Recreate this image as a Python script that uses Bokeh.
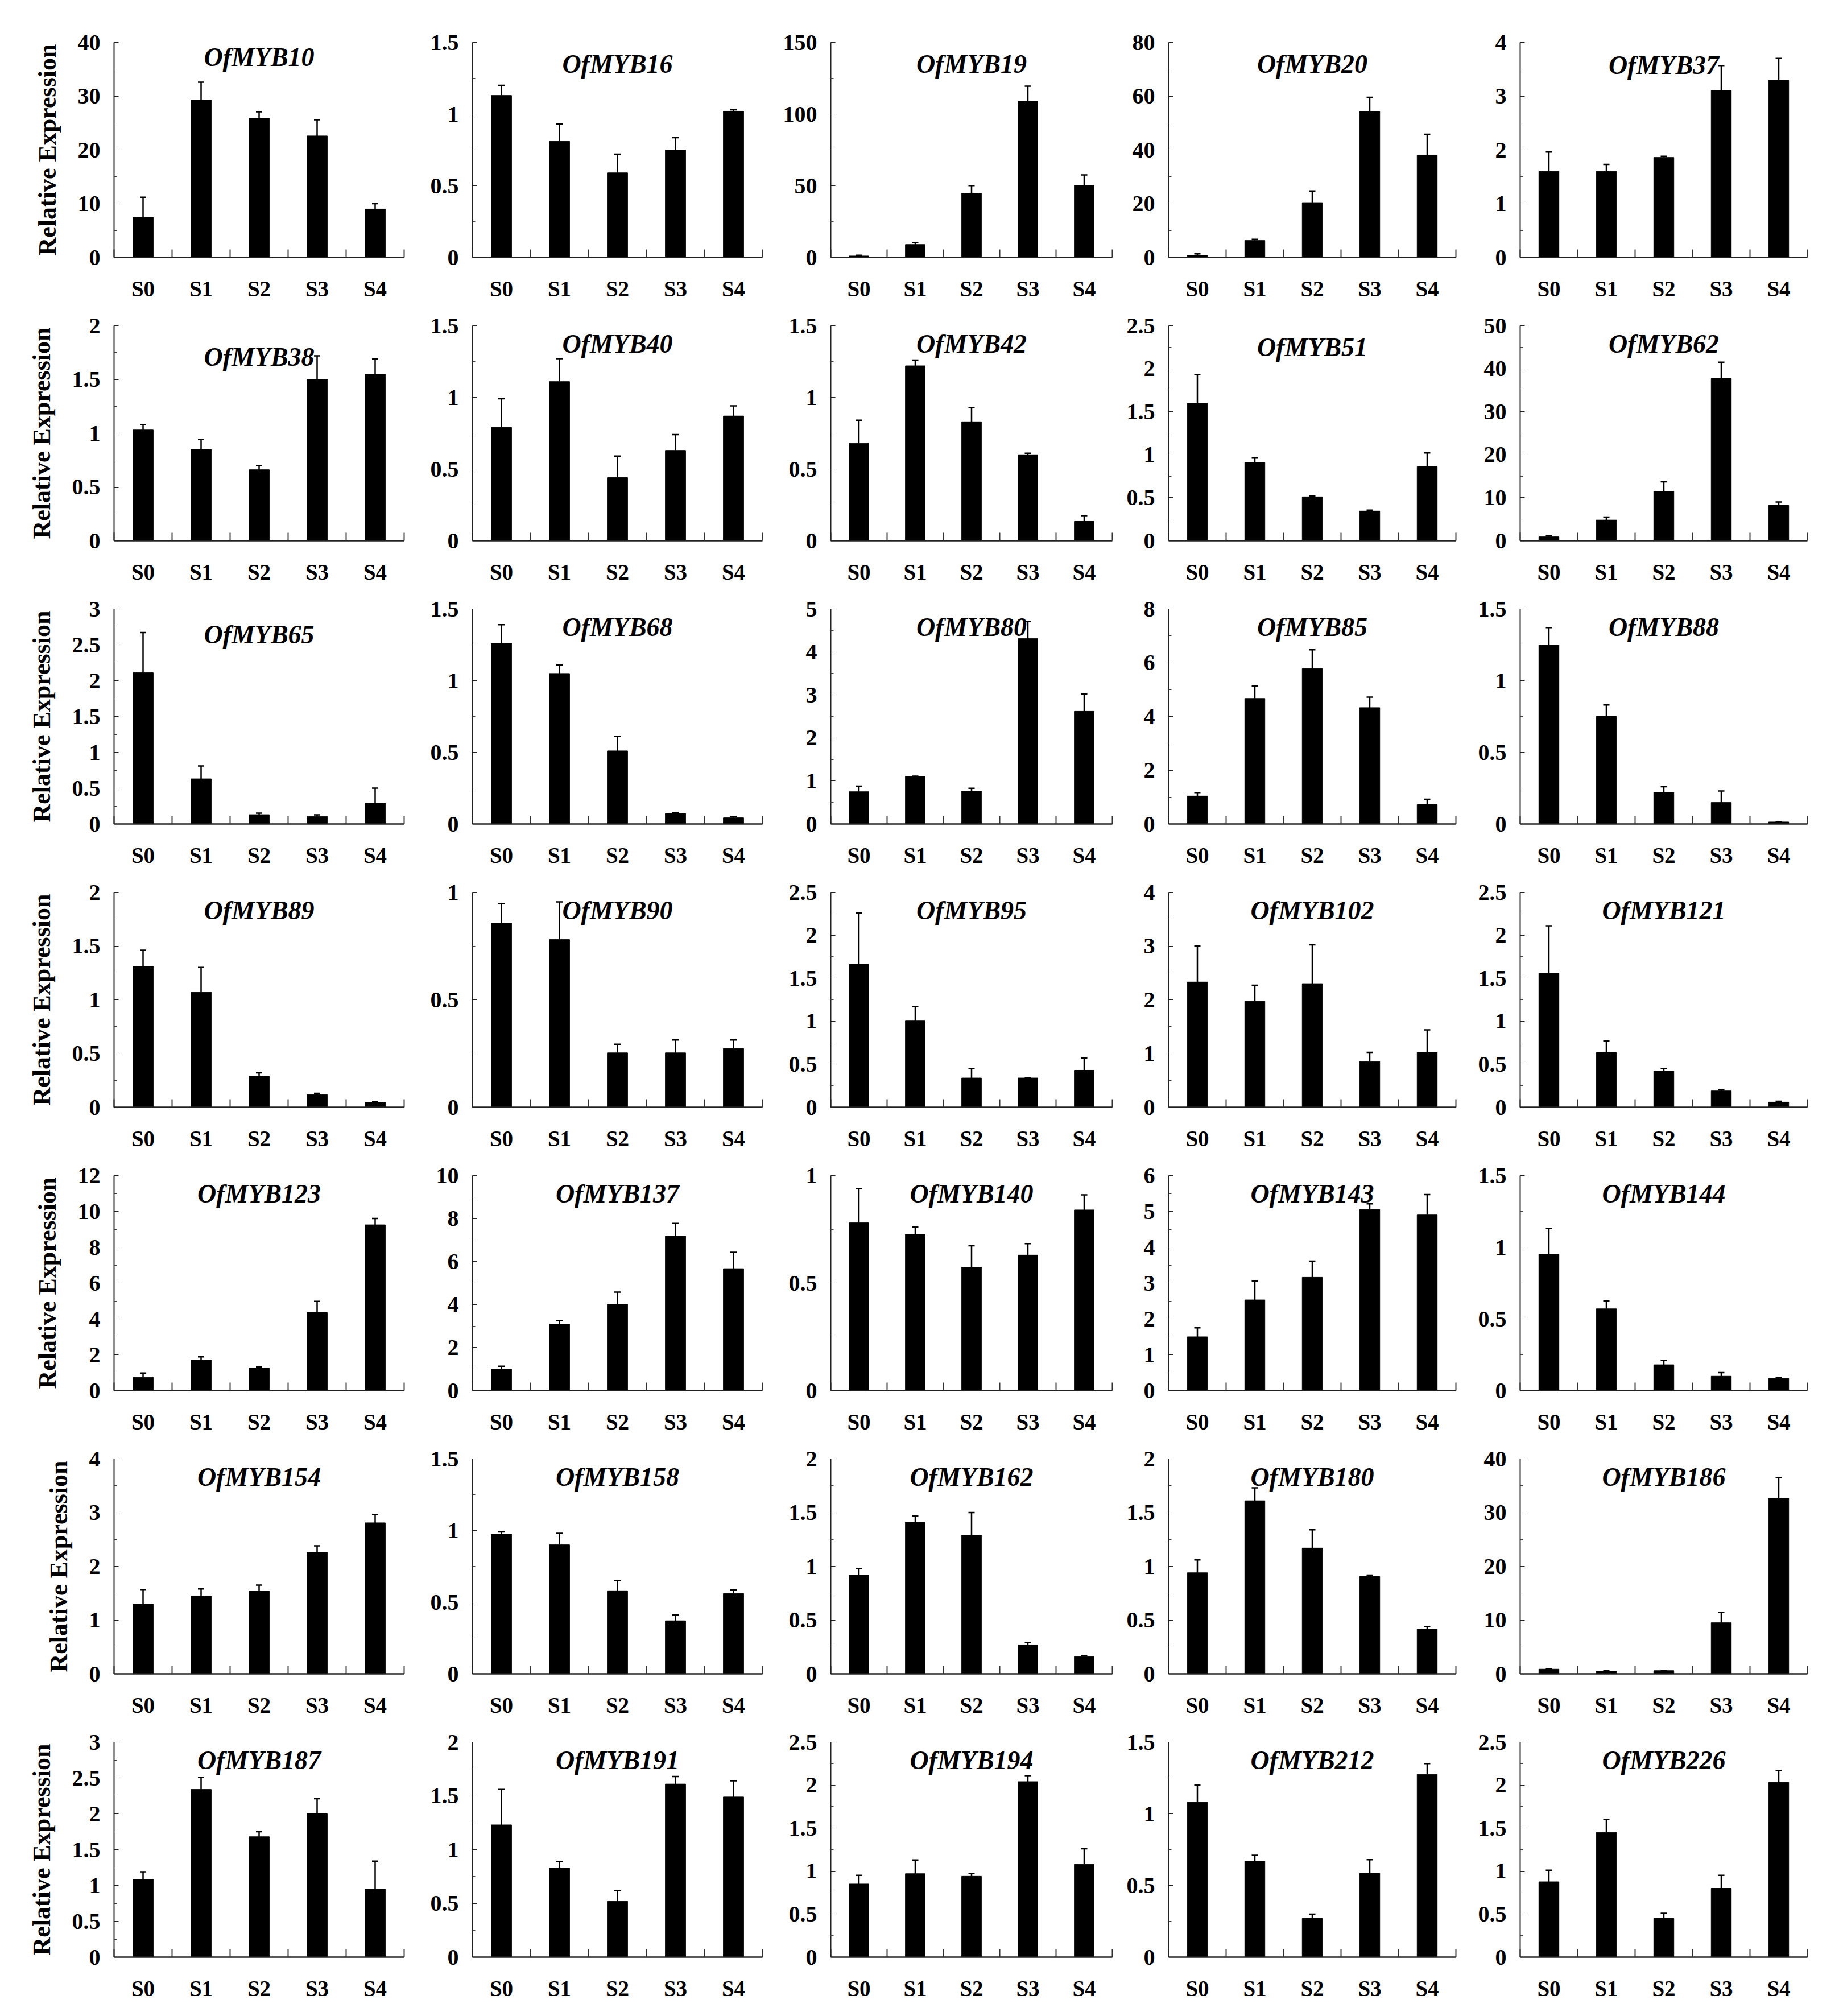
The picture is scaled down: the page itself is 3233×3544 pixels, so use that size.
from bokeh.plotting import figure
from bokeh.models import (Range1d, FixedTicker, Whisker, TeeHead, ColumnDataSource,
                          Label, NumeralTickFormatter, CustomJSTickFormatter)
from bokeh.layouts import gridplot
from bokeh.embed import file_html
from bokeh.resources import INLINE

# ---------------- data ----------------
stages = ["S0", "S1", "S2", "S3", "S4"]

genes = [
    "OfMYB10", "OfMYB16", "OfMYB19", "OfMYB20", "OfMYB37",
    "OfMYB38", "OfMYB40", "OfMYB42", "OfMYB51", "OfMYB62",
    "OfMYB65", "OfMYB68", "OfMYB80", "OfMYB85", "OfMYB88",
    "OfMYB89", "OfMYB90", "OfMYB95", "OfMYB102", "OfMYB121",
    "OfMYB123", "OfMYB137", "OfMYB140", "OfMYB143", "OfMYB144",
    "OfMYB154", "OfMYB158", "OfMYB162", "OfMYB180", "OfMYB186",
    "OfMYB187", "OfMYB191", "OfMYB194", "OfMYB212", "OfMYB226",
]

# axis maximum and major tick step for each panel (same order as genes)
y_max = [40, 1.5, 150, 80, 4,
         2, 1.5, 1.5, 2.5, 50,
         3, 1.5, 5, 8, 1.5,
         2, 1, 2.5, 4, 2.5,
         12, 10, 1, 6, 1.5,
         4, 1.5, 2, 2, 40,
         3, 2, 2.5, 1.5, 2.5]
y_step = [10, 0.5, 50, 20, 1,
          0.5, 0.5, 0.5, 0.5, 10,
          0.5, 0.5, 1, 2, 0.5,
          0.5, 0.5, 0.5, 1, 0.5,
          2, 2, 0.5, 1, 0.5,
          1, 0.5, 0.5, 0.5, 10,
          0.5, 0.5, 0.5, 0.5, 0.5]

# mean relative expression and error (S0..S4)
MYB10 = [7.5, 29.3, 25.9, 22.6, 9.0];        MYB10_err = [3.7, 3.3, 1.2, 3.0, 1.0]
MYB16 = [1.13, 0.81, 0.59, 0.75, 1.02];      MYB16_err = [0.07, 0.12, 0.13, 0.085, 0.01]
MYB19 = [1.0, 9.0, 44.7, 109.0, 50.3];       MYB19_err = [0.5, 1.4, 5.4, 10.4, 7.2]
MYB20 = [0.8, 6.3, 20.4, 54.3, 38.1];        MYB20_err = [0.5, 0.4, 4.3, 5.3, 7.7]
MYB37 = [1.60, 1.60, 1.86, 3.11, 3.30];      MYB37_err = [0.36, 0.13, 0.02, 0.46, 0.40]
MYB38 = [1.03, 0.85, 0.66, 1.50, 1.55];      MYB38_err = [0.05, 0.09, 0.04, 0.22, 0.14]
MYB40 = [0.79, 1.11, 0.44, 0.63, 0.87];      MYB40_err = [0.20, 0.16, 0.15, 0.11, 0.07]
MYB42 = [0.68, 1.22, 0.83, 0.60, 0.135];     MYB42_err = [0.16, 0.04, 0.10, 0.01, 0.04]
MYB51 = [1.60, 0.91, 0.51, 0.345, 0.86];     MYB51_err = [0.33, 0.05, 0.01, 0.01, 0.16]
MYB62 = [0.9, 4.8, 11.5, 37.7, 8.2];         MYB62_err = [0.2, 0.7, 2.2, 3.8, 0.8]
MYB65 = [2.11, 0.63, 0.13, 0.106, 0.29];     MYB65_err = [0.56, 0.18, 0.02, 0.02, 0.21]
MYB68 = [1.26, 1.05, 0.51, 0.074, 0.043];    MYB68_err = [0.13, 0.06, 0.10, 0.006, 0.01]
MYB80 = [0.75, 1.11, 0.76, 4.31, 2.62];      MYB80_err = [0.13, 0.0, 0.07, 0.40, 0.40]
MYB85 = [1.04, 4.67, 5.78, 4.33, 0.72];      MYB85_err = [0.13, 0.47, 0.70, 0.39, 0.20]
MYB88 = [1.25, 0.75, 0.22, 0.15, 0.014];     MYB88_err = [0.12, 0.08, 0.04, 0.08, 0.0]
MYB89 = [1.31, 1.07, 0.29, 0.117, 0.045];    MYB89_err = [0.15, 0.23, 0.03, 0.013, 0.009]
MYB90 = [0.857, 0.78, 0.253, 0.253, 0.273];  MYB90_err = [0.09, 0.175, 0.04, 0.06, 0.04]
MYB95 = [1.66, 1.01, 0.34, 0.34, 0.43];      MYB95_err = [0.60, 0.16, 0.11, 0.0, 0.14]
MYB102 = [2.33, 1.97, 2.30, 0.85, 1.02];     MYB102_err = [0.67, 0.30, 0.72, 0.17, 0.42]
MYB121 = [1.56, 0.635, 0.42, 0.19, 0.06];    MYB121_err = [0.55, 0.135, 0.03, 0.01, 0.01]
MYB123 = [0.74, 1.70, 1.27, 4.35, 9.25];     MYB123_err = [0.24, 0.18, 0.05, 0.63, 0.35]
MYB137 = [0.99, 3.08, 4.01, 7.18, 5.67];     MYB137_err = [0.14, 0.18, 0.57, 0.59, 0.76]
MYB140 = [0.78, 0.726, 0.573, 0.63, 0.84];   MYB140_err = [0.16, 0.034, 0.10, 0.053, 0.07]
MYB143 = [1.50, 2.53, 3.16, 5.05, 4.90];     MYB143_err = [0.25, 0.52, 0.45, 0.16, 0.57]
MYB144 = [0.95, 0.57, 0.18, 0.10, 0.084];    MYB144_err = [0.18, 0.056, 0.03, 0.025, 0.008]
MYB154 = [1.30, 1.45, 1.54, 2.26, 2.81];     MYB154_err = [0.27, 0.13, 0.11, 0.12, 0.15]
MYB158 = [0.975, 0.90, 0.58, 0.37, 0.56];    MYB158_err = [0.015, 0.08, 0.07, 0.04, 0.025]
MYB162 = [0.92, 1.41, 1.29, 0.27, 0.16];     MYB162_err = [0.06, 0.06, 0.21, 0.02, 0.01]
MYB180 = [0.94, 1.61, 1.17, 0.905, 0.415];   MYB180_err = [0.12, 0.12, 0.17, 0.013, 0.025]
MYB186 = [0.87, 0.5, 0.6, 9.5, 32.7];        MYB186_err = [0.1, 0.05, 0.05, 1.9, 3.8]
MYB187 = [1.085, 2.34, 1.68, 2.00, 0.95];    MYB187_err = [0.105, 0.17, 0.07, 0.21, 0.39]
MYB191 = [1.23, 0.83, 0.52, 1.61, 1.49];     MYB191_err = [0.33, 0.06, 0.10, 0.07, 0.15]
MYB194 = [0.85, 0.97, 0.94, 2.04, 1.08];     MYB194_err = [0.10, 0.16, 0.03, 0.07, 0.18]
MYB212 = [1.08, 0.67, 0.27, 0.585, 1.275];   MYB212_err = [0.12, 0.04, 0.03, 0.095, 0.075]
MYB226 = [0.876, 1.45, 0.45, 0.80, 2.03];    MYB226_err = [0.134, 0.15, 0.06, 0.15, 0.14]

means = [MYB10, MYB16, MYB19, MYB20, MYB37, MYB38, MYB40, MYB42, MYB51, MYB62,
         MYB65, MYB68, MYB80, MYB85, MYB88, MYB89, MYB90, MYB95, MYB102, MYB121,
         MYB123, MYB137, MYB140, MYB143, MYB144, MYB154, MYB158, MYB162, MYB180, MYB186,
         MYB187, MYB191, MYB194, MYB212, MYB226]
errors = [MYB10_err, MYB16_err, MYB19_err, MYB20_err, MYB37_err, MYB38_err, MYB40_err,
          MYB42_err, MYB51_err, MYB62_err, MYB65_err, MYB68_err, MYB80_err, MYB85_err,
          MYB88_err, MYB89_err, MYB90_err, MYB95_err, MYB102_err, MYB121_err, MYB123_err,
          MYB137_err, MYB140_err, MYB143_err, MYB144_err, MYB154_err, MYB158_err,
          MYB162_err, MYB180_err, MYB186_err, MYB187_err, MYB191_err, MYB194_err,
          MYB212_err, MYB226_err]

# ---------------- layout / style ----------------
FONT = "Liberation Serif"
N_COLS = 5
COL_L = [200, 92, 92, 92, 92]
COL_F = [510, 510, 495, 505, 505]
COL_R = [28, 28, 7, 21, 20]
ROW_T = [74, 24, 24, 24, 24, 24, 24]
ROW_B = [96, 96, 96, 96, 96, 96, 88]
FRAME_H = 378
title_drop = {"OfMYB38": 0.145, "OfMYB65": 0.12, "OfMYB16": 0.1, "OfMYB19": 0.1,
              "OfMYB20": 0.1, "OfMYB37": 0.105, "OfMYB51": 0.1, "OfMYB10": 0.07}


def make_panel(idx):
    r, c = divmod(idx, N_COLS)
    gene, mean, err = genes[idx], means[idx], errors[idx]
    ymax, step = y_max[idx], y_step[idx]
    n = len(stages)
    xs = [i + 0.5 for i in range(n)]
    left, frame_w = COL_L[c], COL_F[c]
    if c == 0 and r >= 5:          # lower-left panels sit a little further left
        left, frame_w = 184, 526
    src = ColumnDataSource(dict(x=xs, top=mean,
                                upper=[m + e for m, e in zip(mean, err)]))
    p = figure(width=left + frame_w + COL_R[c],
               height=ROW_T[r] + FRAME_H + ROW_B[r],
               x_range=Range1d(0, n), y_range=Range1d(0, ymax),
               min_border_left=left, min_border_right=COL_R[c],
               min_border_top=ROW_T[r], min_border_bottom=ROW_B[r],
               output_backend="svg", toolbar_location=None)
    p.vbar(x="x", top="top", bottom=0, width=0.35, source=src,
           fill_color="black", line_color="black")
    p.add_layout(Whisker(source=src, base="x", lower="top", upper="upper",
                         dimension="height", line_color="black", line_width=2.5,
                         upper_head=TeeHead(size=11, line_color="black", line_width=2.5),
                         lower_head=None))
    # title inside the frame
    drop = title_drop.get(gene, 0.085)
    p.add_layout(Label(x=n / 2, y=ymax * (1 - drop), text=gene,
                       text_font=FONT, text_font_style="bold italic",
                       text_font_size="46px", text_align="center",
                       text_baseline="middle", text_color="black"))

    # y axis
    nt = int(round(ymax / step))
    yt = [round(k * step, 6) for k in range(nt + 1)]
    ym = [round((k + 0.5) * step, 6) for k in range(nt)]
    p.yaxis.ticker = FixedTicker(ticks=yt, minor_ticks=ym)
    p.yaxis.formatter = NumeralTickFormatter(format="0.[0]")
    p.yaxis.major_tick_in = 8
    p.yaxis.major_tick_out = 0
    p.yaxis.minor_tick_in = 5
    p.yaxis.minor_tick_out = 0
    p.yaxis.major_label_standoff = 24
    p.yaxis.major_label_text_font = FONT
    p.yaxis.major_label_text_font_style = "bold"
    p.yaxis.major_label_text_font_size = "40px"
    p.yaxis.major_label_text_color = "black"
    p.yaxis.axis_line_color = "#222222"
    p.yaxis.axis_line_width = 2
    p.yaxis.major_tick_line_color = "#222222"
    p.yaxis.minor_tick_line_color = "#444444"
    if c == 0:
        p.yaxis.axis_label = "Relative Expression"
        p.yaxis.axis_label_text_font = FONT
        p.yaxis.axis_label_text_font_style = "bold"
        p.yaxis.axis_label_text_font_size = "44px"
        p.yaxis.axis_label_text_color = "black"
        p.yaxis.axis_label_standoff = 26

    # x axis: labels at category centres, marks at category boundaries
    p.xaxis.ticker = FixedTicker(ticks=xs, minor_ticks=list(range(n + 1)))
    p.xaxis.formatter = CustomJSTickFormatter(
        args=dict(labels=stages), code="return labels[Math.floor(tick)] || '';")
    p.xaxis.major_tick_in = 0
    p.xaxis.major_tick_out = 0
    p.xaxis.minor_tick_in = 14
    p.xaxis.minor_tick_out = 0
    p.xaxis.minor_tick_line_width = 2
    p.xaxis.minor_tick_line_color = "#333333"
    p.xaxis.major_label_standoff = 33
    p.xaxis.major_label_text_font = FONT
    p.xaxis.major_label_text_font_style = "bold"
    p.xaxis.major_label_text_font_size = "39px"
    p.xaxis.major_label_text_color = "black"
    p.xaxis.axis_line_color = "#222222"
    p.xaxis.axis_line_width = 2.5

    p.grid.visible = False
    p.outline_line_color = None
    p.background_fill_color = "white"
    p.border_fill_color = "white"
    return p


figs = [make_panel(i) for i in range(len(genes))]
rows = [figs[i:i + N_COLS] for i in range(0, len(figs), N_COLS)]
grid = gridplot(rows, toolbar_location=None)

open("out.html", "w").write(file_html(grid, INLINE))
